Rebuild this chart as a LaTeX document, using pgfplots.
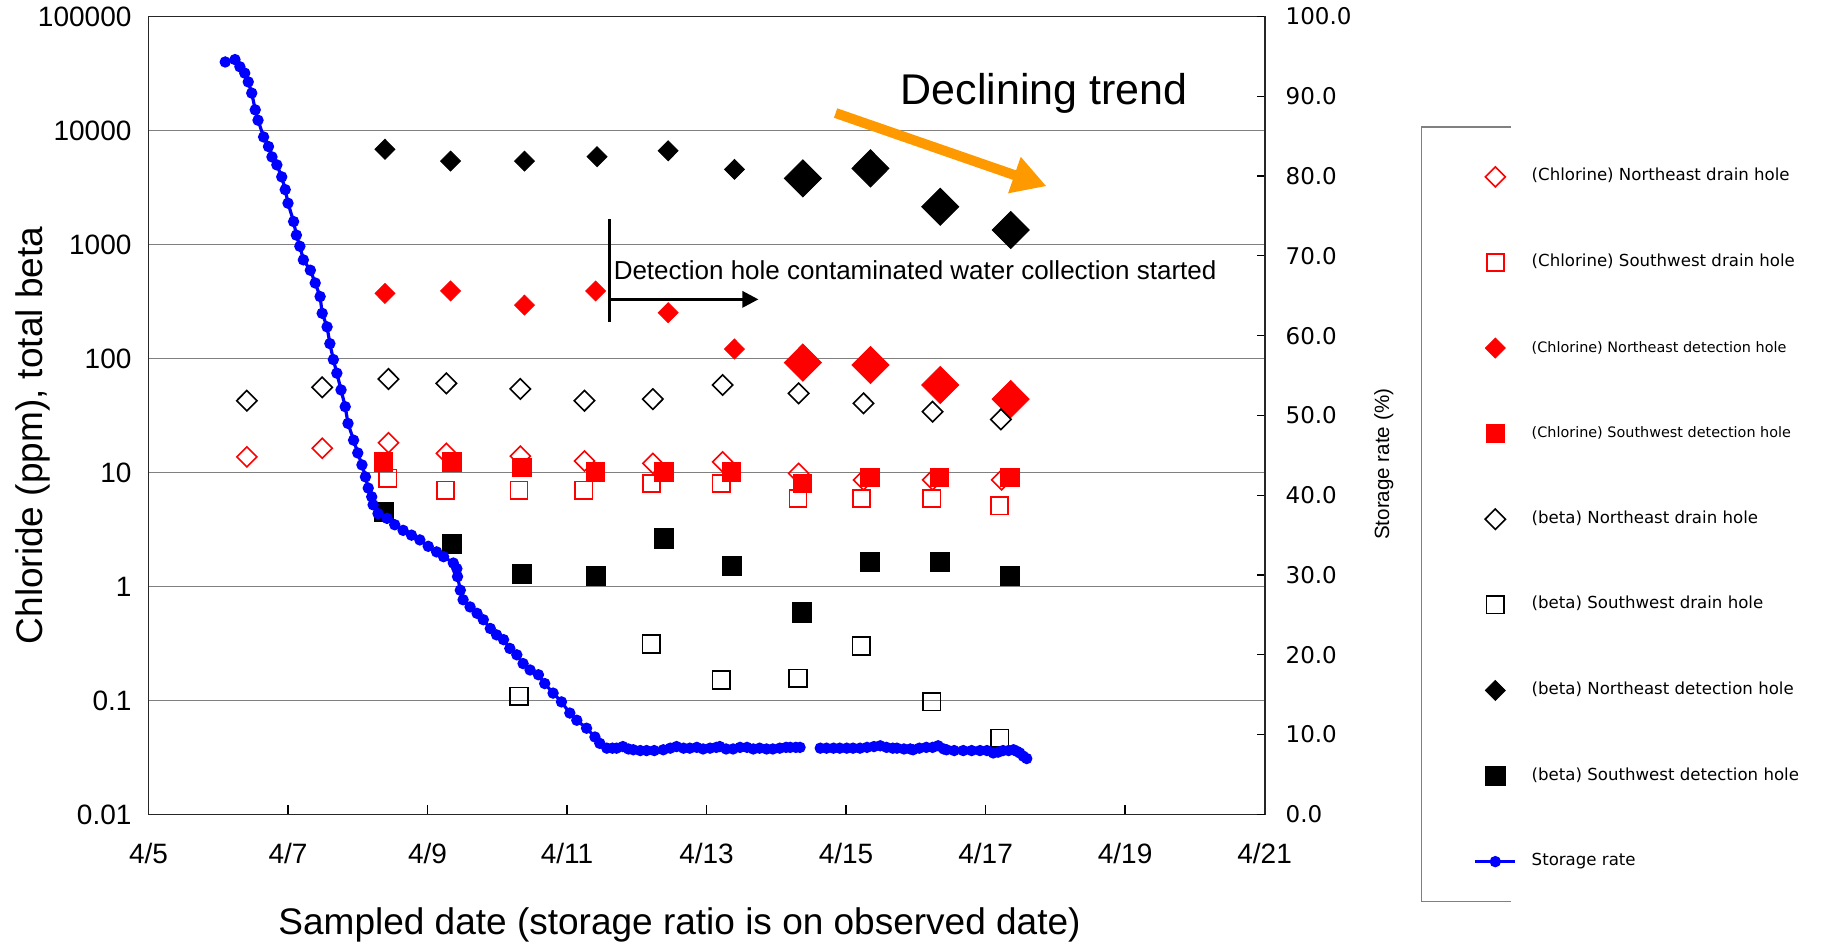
\documentclass[border=0pt]{standalone}
\usepackage{fontspec}
\setmainfont{Liberation Sans}
\newfontfamily\dejavu{DejaVu Sans}
\usepackage{pgfplots}
\pgfplotsset{compat=1.18}
\usetikzlibrary{arrows.meta}
\definecolor{chl}{RGB}{255,0,0}
\definecolor{stor}{RGB}{0,0,255}
\definecolor{trend}{RGB}{255,153,0}
\definecolor{gridc}{RGB}{128,128,128}

\begin{document}
\begin{tikzpicture}
\path[use as bounding box] (0,0) rectangle (924pt,474pt);
\begin{axis}[
  at={(74.25pt,66.8pt)}, anchor=south west,
  scale only axis, width=558.05pt, height=398.95pt,
  xmin=5, xmax=21, ymode=log, ymin=0.01, ymax=100000,
  xtick={5,7,...,21},
  xticklabels={4/5,4/7,4/9,4/11,4/13,4/15,4/17,4/19,4/21},
  ytick={0.01,0.1,1,10,100,1000,10000,100000},
  yticklabels={0.01,0.1,1,10,100,1000,10000,100000},
  xtick pos=bottom, tick align=inside, major tick length=4.5pt,
  ytick style={draw=none}, yminorticks=false, xminorticks=false,
  ymajorgrids, grid style={gridc, line width=0.8pt},
  axis line style={black!85, line width=0.9pt},
  xtick style={black, line width=0.6pt},
  xticklabel style={font=\fontsize{14}{16}\selectfont, yshift=-11pt},
  yticklabel style={font=\fontsize{14}{16}\selectfont, xshift=-5pt},
  xlabel={Sampled date (storage ratio is on observed date)},
  ylabel={Chloride (ppm), total beta},
  label style={font=\fontsize{18.5}{20}\selectfont},
  xlabel style={at={(axis description cs:0.4758,-0.1386)}, anchor=center},
  ylabel style={at={(axis description cs:-0.1035,0.4749)}, anchor=center},
  legend image code/.code={\path[draw=none, fill=none] (-11pt,-6pt) rectangle (11pt,6pt);
    \draw[mark repeat=2,mark phase=2,#1] plot coordinates {(-10pt,0pt)(0pt,0pt)(10pt,0pt)};},
  legend style={at={(axis description cs:1.1870,0.8141)}, anchor=north west,
    draw=none, fill=none, inner sep=0pt, outer sep=0pt,
    row sep=30.8pt, column sep=7.2pt,
    font=\dejavu\fontsize{8.3}{9}\selectfont,
    nodes={inner sep=0pt, text height=8pt, text depth=4pt}},
  legend cell align=left,
]
% (Chlorine) Northeast drain hole
\addplot[chl, only marks, mark=diamond, mark size=5pt, mark options={xscale=1.33, line width=0.8pt}] coordinates {
  (6.41,13.7) (7.49,16.3) (8.44,18.2) (9.27,14.7) (10.33,13.9) (11.25,12.6)
  (12.23,12.0) (13.23,12.4) (14.32,9.8) (15.25,8.6) (16.24,8.6) (17.23,8.6)
};
\addlegendentry{(Chlorine) Northeast drain hole}
% (Chlorine) Southwest drain hole
\addplot[chl, only marks, mark=square, mark size=4.3pt, mark options={line width=0.8pt}] coordinates {
  (8.43,8.9) (9.26,7.0) (10.31,7.0) (11.24,7.0) (12.21,8.0) (13.21,8.0)
  (14.31,5.9) (15.22,5.9) (16.23,5.9) (17.20,5.1)
};
\addlegendentry{(Chlorine) Southwest drain hole}
% (Chlorine) Northeast detection hole
\addplot[chl, only marks, mark=diamond*, mark size=5pt, mark options={xscale=1.33}] coordinates {
  (8.39,372) (9.33,391) (10.39,294) (11.41,391) (12.45,252) (13.40,121)
};
\addlegendentry{\fontsize{7.2}{8}\selectfont (Chlorine) Northeast detection hole}
\addplot[chl, only marks, mark=diamond*, mark size=9.3pt, mark options={xscale=1.33}, forget plot] coordinates {
  (14.38,92) (15.35,87.5) (16.35,58.5) (17.36,44)
};
% (Chlorine) Southwest detection hole
\addplot[chl, only marks, mark=square*, mark size=4.6pt] coordinates {
  (8.37,12.4) (9.35,12.4) (10.35,11.1) (11.41,10.1) (12.39,10.1) (13.36,10.1)
  (14.37,8.0) (15.34,9.1) (16.34,9.1) (17.35,9.1)
};
\addlegendentry{\fontsize{7.2}{8}\selectfont (Chlorine) Southwest detection hole}
% (beta) Northeast drain hole
\addplot[black, only marks, mark=diamond, mark size=5.1pt, mark options={xscale=1.33, line width=0.8pt}] coordinates {
  (6.41,42.6) (7.49,55.8) (8.44,66) (9.27,60.5) (10.33,54) (11.25,42.6)
  (12.23,44) (13.23,58.5) (14.32,49.4) (15.25,40.4) (16.24,34.1) (17.22,29.2)
};
\addlegendentry{(beta) Northeast drain hole}
% (beta) Southwest drain hole
\addplot[black, only marks, mark=square, mark size=4.4pt, mark options={line width=0.8pt}] coordinates {
  (10.31,0.109) (12.21,0.313) (13.21,0.151) (14.31,0.156) (15.22,0.30)
  (16.23,0.0975) (17.20,0.0466)
};
\addlegendentry{(beta) Southwest drain hole}
% (beta) Northeast detection hole
\addplot[black, only marks, mark=diamond*, mark size=5pt, mark options={xscale=1.33}] coordinates {
  (8.39,6840) (9.33,5390) (10.39,5390) (11.43,5890) (12.45,6640) (13.40,4560)
};
\addlegendentry{(beta) Northeast detection hole}
\addplot[black, only marks, mark=diamond*, mark size=9.3pt, mark options={xscale=1.33}, forget plot] coordinates {
  (14.38,3800) (15.35,4650) (16.35,2140) (17.36,1340)
};
% (beta) Southwest detection hole
\addplot[black, only marks, mark=square*, mark size=4.8pt] coordinates {
  (8.37,4.53) (9.35,2.36) (10.35,1.29) (11.41,1.23) (12.39,2.64) (13.36,1.51)
  (14.37,0.593) (15.34,1.63) (16.34,1.63) (17.35,1.23)
};
\addlegendentry{(beta) Southwest detection hole}
\addlegendimage{stor, line width=1.6pt, mark=*, mark size=2pt}
\addlegendentry{Storage rate}

% annotations
\draw[trend, line width=5pt, -{Triangle[length=17pt,width=18pt]}]
  (axis cs:14.85,14220) -- (axis cs:17.874,3245);
\node[anchor=base, font=\fontsize{21.5}{24}\selectfont, inner sep=0pt]
  at (axis cs:17.837,17060) {Declining trend};
\draw[black, line width=1.5pt] (axis cs:11.613,1664) -- (axis cs:11.613,210);
\draw[black, line width=1.5pt, -{Triangle[length=8pt,width=8pt]}]
  (axis cs:11.613,330) -- (axis cs:13.744,330);
\node[anchor=base west, font=\fontsize{13}{15}\selectfont, inner sep=0pt]
  at (axis cs:11.664,494) {Detection hole contaminated water collection started};
\end{axis}

\begin{axis}[
  at={(74.25pt,66.8pt)}, anchor=south west,
  scale only axis, width=558.05pt, height=398.95pt,
  xmin=5, xmax=21, ymin=0, ymax=100,
  axis x line=none, axis y line*=right,
  ytick={0,10,20,30,40,50,60,70,80,90,100},
  yticklabels={0.0,10.0,20.0,30.0,40.0,50.0,60.0,70.0,80.0,90.0,100.0},
  tick align=inside, major tick length=4pt,
  ytick style={black, line width=0.6pt},
  axis line style={black!85, line width=0.9pt},
  yticklabel style={font=\dejavu\fontsize{11.5}{13}\selectfont, xshift=7pt},
  ylabel={Storage rate (\%)},
  ylabel style={at={(axis description cs:1.1067,0.4387)}, anchor=center, font=\fontsize{10.3}{12}\selectfont},
  unbounded coords=jump,
]
\addplot[stor, line width=1.6pt, mark=*, mark size=2pt] table {
x y
6.10 94.3
6.24 94.6
6.31 93.7
6.38 92.9
6.43 91.8
6.48 90.4
6.53 88.3
6.57 87.0
6.65 84.9
6.72 83.7
6.77 82.4
6.84 81.4
6.91 79.9
6.96 78.3
7.00 76.6
7.08 74.3
7.12 72.6
7.17 71.2
7.22 69.5
7.32 68.2
7.39 66.6
7.46 64.9
7.49 62.8
7.56 61.1
7.60 59.0
7.65 57.0
7.70 55.3
7.76 53.2
7.82 51.1
7.86 49.0
7.94 46.9
8.00 45.3
8.06 43.8
8.11 42.3
8.15 40.9
8.20 39.8
8.22 38.8
8.29 37.7
8.42 37.1
8.53 36.3
8.65 35.6
8.77 35.0
8.89 34.4
9.01 33.6
9.13 32.9
9.23 32.3
9.37 31.5
9.42 30.8
9.43 29.8
9.47 28.1
9.51 26.9
9.61 26.0
9.71 25.2
9.80 24.4
9.90 23.3
9.99 22.5
10.09 21.9
10.18 20.8
10.28 20.0
10.37 18.9
10.47 18.1
10.59 17.5
10.68 16.4
10.80 15.2
10.92 14.1
11.04 12.7
11.14 11.8
11.28 10.8
11.40 9.7
11.47 8.9
11.57 8.3
11.65 8.3
11.71 8.3
11.80 8.5
11.88 8.2
11.95 8.1
12.05 8.0
12.14 8.0
12.25 8.0
12.38 8.1
12.48 8.3
12.57 8.5
12.67 8.3
12.76 8.3
12.86 8.4
12.95 8.2
13.05 8.3
13.14 8.4
13.19 8.5
13.28 8.2
13.38 8.2
13.48 8.4
13.58 8.4
13.67 8.2
13.76 8.3
13.86 8.2
13.95 8.2
14.05 8.3
14.14 8.4
14.20 8.4
14.28 8.4
14.34 8.4
14.48 nan
14.63 8.3
14.72 8.3
14.82 8.3
14.91 8.3
15.01 8.3
15.10 8.3
15.20 8.3
15.30 8.4
15.40 8.5
15.49 8.6
15.58 8.4
15.67 8.3
15.73 8.3
15.83 8.2
15.92 8.2
15.96 8.1
16.05 8.3
16.15 8.4
16.24 8.4
16.32 8.6
16.40 8.2
16.44 8.1
16.55 8.0
16.68 8.0
16.80 8.0
16.92 8.0
17.02 8.0
17.11 7.7
17.18 7.8
17.25 8.0
17.33 8.0
17.40 8.1
17.45 7.9
17.49 7.7
17.54 7.3
17.59 7.0
};
\end{axis}
% partial legend frame
\draw[gridc, line width=0.8pt] (755.5pt,410.35pt) -- (710.7pt,410.35pt) -- (710.7pt,23.2pt) -- (755.5pt,23.2pt);
\end{tikzpicture}
\end{document}
